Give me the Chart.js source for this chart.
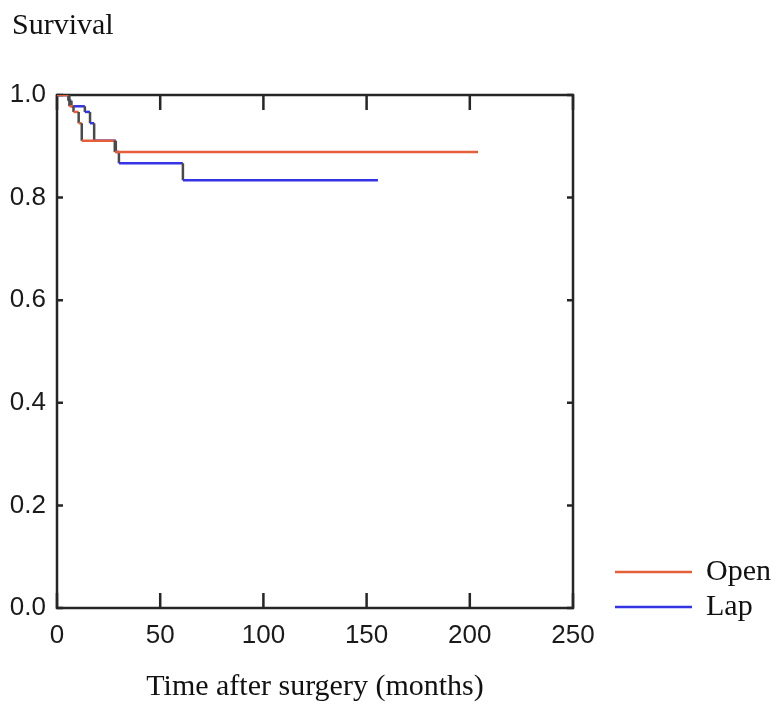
<!DOCTYPE html>
<html>
<head>
<meta charset="utf-8">
<script src="https://cdn.jsdelivr.net/npm/chart.js@4.4.1/dist/chart.umd.min.js"></script>
<style>
  html, body { margin: 0; padding: 0; background: #fff; }
  #wrap { width: 780px; height: 709px; }
</style>
</head>
<body>
<div id="wrap"><canvas id="kmChart"></canvas></div>
<script>
// Kaplan-Meier data (months, survival after each event)
const openEventMonths = [6, 8, 10.5, 12, 28];
const openSurvival = [0.978, 0.967, 0.945, 0.911, 0.889];
const openLastFollowUp = 204;

const lapEventMonths = [5.5, 7, 13.5, 16, 18, 28.5, 30, 61];
const lapSurvival = [0.989, 0.978, 0.967, 0.945, 0.911, 0.889, 0.867, 0.834];
const lapLastFollowUp = 155.5;

const xTicks = [0, 50, 100, 150, 200, 250];
const yTicks = [0, 0.2, 0.4, 0.6, 0.8, 1.0];

const OPEN_COLOR = '#e5603a';
const LAP_COLOR = '#3434e4';
const DROP_COLOR = '#4a4a4a';
const SERIF = '"Liberation Serif", "Times New Roman", serif';

// step curve: horizontal to the event, then straight down
function stepPoints(times, surv, lastTime) {
    const pts = [{ x: 0, y: 1 }];
    let prev = 1;
    times.forEach((t, i) => {
        pts.push({ x: t, y: prev });
        pts.push({ x: t, y: surv[i] });
        prev = surv[i];
    });
    pts.push({ x: lastTime, y: prev });
    return pts;
}

function makeSet(label, pts, color) {
    return {
        label: label,
        data: pts,
        borderColor: color,
        borderWidth: 2.5,
        pointRadius: 0,
        tension: 0,
        fill: false,
        segment: {
            borderColor: c => c.p0.parsed.x === c.p1.parsed.x ? DROP_COLOR : color
        }
    };
}

const frameAndLabels = {
    id: 'frameAndLabels',
    beforeDatasetsDraw(chart) {
        const { ctx, chartArea: a, scales } = chart;
        ctx.save();
        ctx.strokeStyle = '#262626';
        ctx.lineWidth = 2.5;
        ctx.strokeRect(a.left, a.top, a.right - a.left, a.bottom - a.top);
        ctx.beginPath();
        xTicks.forEach(v => {
            const px = scales.x.getPixelForValue(v);
            ctx.moveTo(px, a.bottom); ctx.lineTo(px, a.bottom - 15);
            ctx.moveTo(px, a.top); ctx.lineTo(px, a.top + 15);
        });
        yTicks.forEach(v => {
            const py = scales.y.getPixelForValue(v);
            ctx.moveTo(a.left, py); ctx.lineTo(a.left + 6, py);
            ctx.moveTo(a.right, py); ctx.lineTo(a.right - 6, py);
        });
        ctx.stroke();
        ctx.restore();
    },
    afterDraw(chart) {
        const { ctx } = chart;
        ctx.save();
        ctx.fillStyle = '#111';
        ctx.font = '30px ' + SERIF;
        ctx.textBaseline = 'middle';
        ctx.textAlign = 'left';
        ctx.fillText('Survival', 12, 26);

        // legend at lower right
        const rows = [572, 607];
        chart.data.datasets.forEach((ds, i) => {
            ctx.strokeStyle = ds.borderColor;
            ctx.lineWidth = 2.5;
            ctx.beginPath();
            ctx.moveTo(615, rows[i]);
            ctx.lineTo(692, rows[i]);
            ctx.stroke();
            ctx.fillText(ds.label, 706, rows[i]);
        });
        ctx.restore();
    }
};

new Chart(document.getElementById('kmChart'), {
    type: 'line',
    data: {
        datasets: [
            makeSet('Open', stepPoints(openEventMonths, openSurvival, openLastFollowUp), OPEN_COLOR),
            makeSet('Lap', stepPoints(lapEventMonths, lapSurvival, lapLastFollowUp), LAP_COLOR)
        ]
    },
    plugins: [frameAndLabels],
    options: {
        responsive: true,
        maintainAspectRatio: false,
        animation: false,
        layout: { padding: { top: 95, right: 207, left: 0, bottom: 0 } },
        plugins: {
            legend: { display: false },
            tooltip: { enabled: false }
        },
        scales: {
            x: {
                type: 'linear',
                min: 0,
                max: 250,
                afterBuildTicks: s => { s.ticks = xTicks.map(v => ({ value: v })); },
                afterFit: s => { s.height = 101; },
                grid: { display: false, drawTicks: false },
                border: { display: false },
                ticks: {
                    padding: 12,
                    color: '#1a1a1a',
                    font: { family: '"Liberation Sans", Arial, sans-serif', size: 26 },
                    maxRotation: 0
                },
                title: {
                    display: true,
                    text: 'Time after surgery (months)',
                    color: '#111',
                    font: { family: SERIF, size: 30 },
                    padding: { top: 18 }
                }
            },
            y: {
                min: 0,
                max: 1,
                afterBuildTicks: s => { s.ticks = yTicks.map(v => ({ value: v })); },
                afterFit: s => { s.width = 57; },
                grid: { display: false, drawTicks: false },
                border: { display: false },
                ticks: {
                    padding: 11,
                    color: '#1a1a1a',
                    font: { family: '"Liberation Sans", Arial, sans-serif', size: 26 },
                    callback: v => v.toFixed(1)
                }
            }
        }
    }
});
</script>
</body>
</html>
